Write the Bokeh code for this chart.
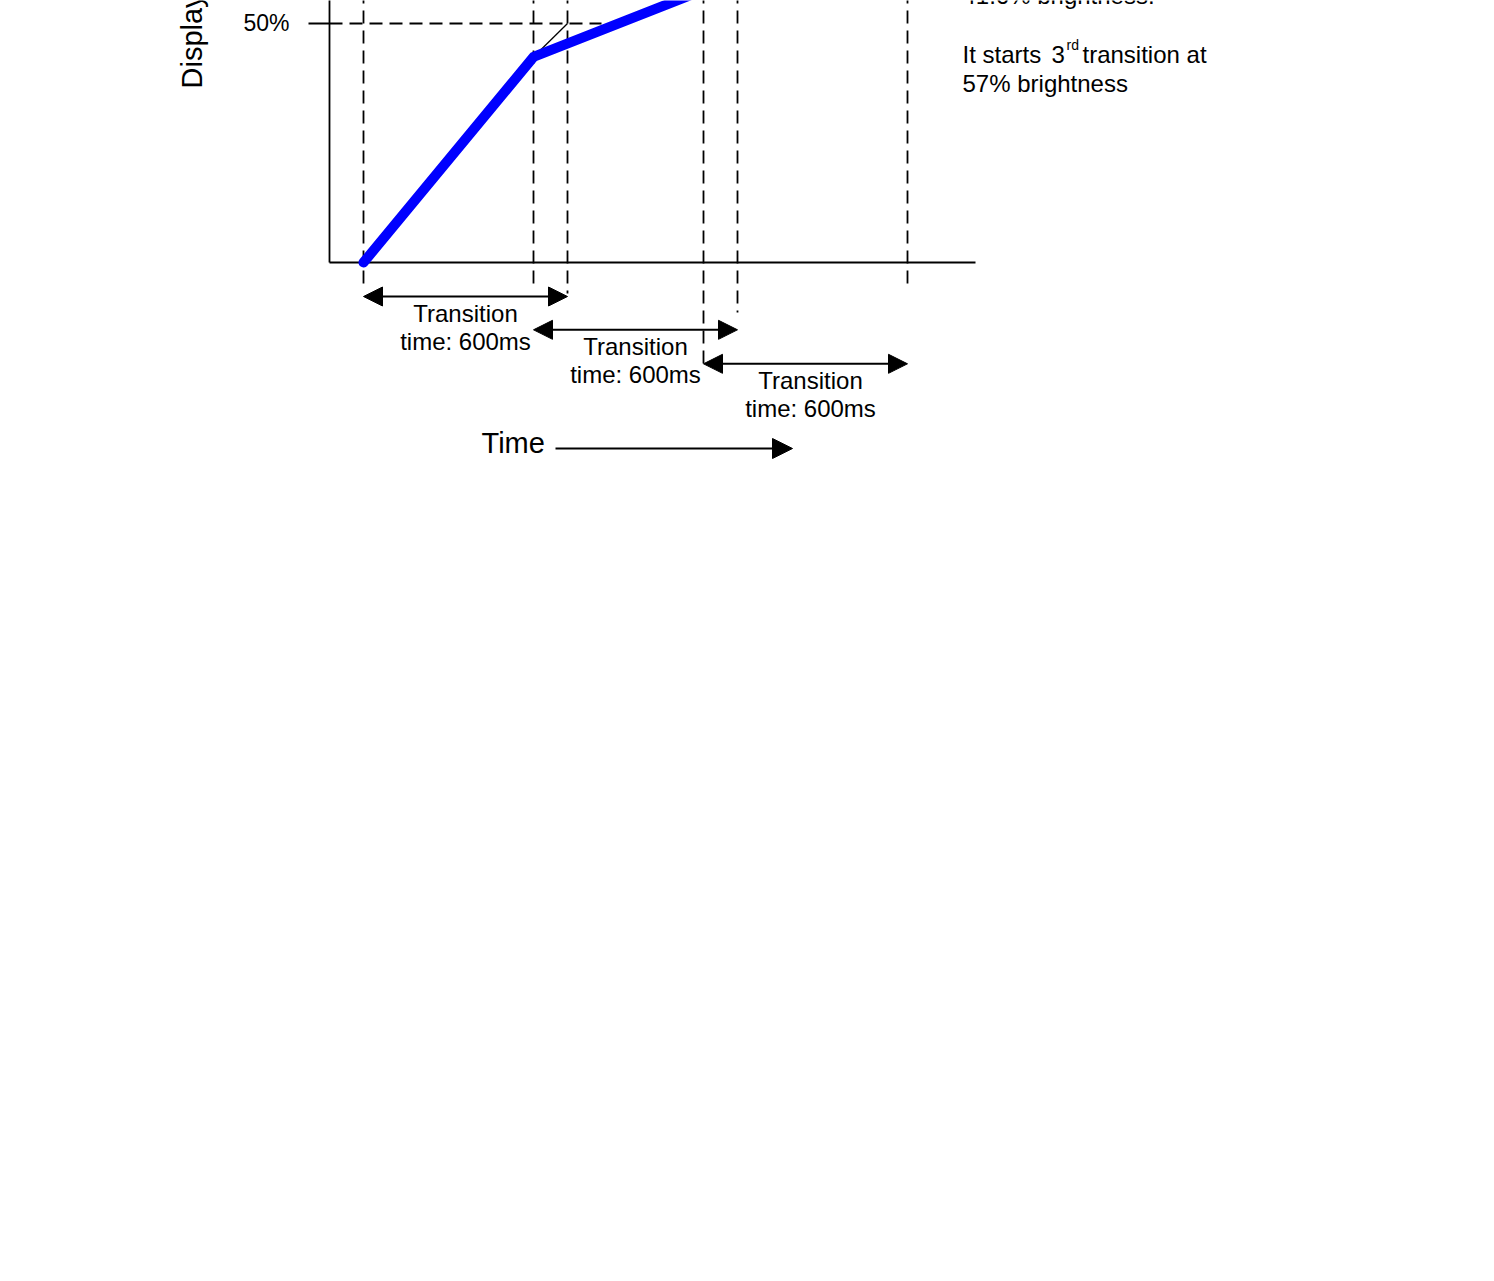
import math
from bokeh.plotting import figure
from bokeh.models import Range1d, Label, Arrow, NormalHead
from bokeh.embed import file_html
from bokeh.resources import INLINE

# ---------------- data ----------------
curve_time_ms = [0, 500, 1000]
curve_brightness = [0, 43, 57]
target_time_ms = [500, 600]
target_brightness = [43, 50]
transition_start_ms = [0, 500, 1000]
transition_length_ms = 600
marker_time_ms = [0, 500, 600, 1000, 1100, 1600]
y_tick_values = [50]
y_tick_labels = ["50%"]
transition_text = ["Transition", "time: 600ms"]
axis_start_ms = -100
axis_end_ms = 1800
note_lines = ["41.6% brightness.", "It starts", "3", "rd", "transition at", "57% brightness"]

# ---------------- layout helpers (reference pixel geometry) ----------------
W, H = 1478, 1265
ORIGIN = 0                # page px where the canvas starts
PX0, SX = 363.0, 0.34     # page px of t=0, px per ms
PY0, SY = 262.0, 4.78     # page px of 0 %, px per %
BASE_SHIFT = 0.37         # em correction for the rendered text baseline

def tx(px):
    return (px - PX0) / SX

def by(py):
    return (PY0 - py) / SY

FONT = "Liberation Sans"

p = figure(width=W, height=H, output_backend="svg", toolbar_location=None,
           x_axis_type=None, y_axis_type=None, min_border=0,
           x_range=Range1d(tx(ORIGIN), tx(ORIGIN + W)),
           y_range=Range1d(by(ORIGIN + H), by(ORIGIN)))
p.outline_line_color = None
p.background_fill_color = "white"
p.border_fill_color = "white"

top = by(-30)
DASH = "13 7"
LW = 1.8


def text_at(px, py, text, size, align="left", angle=0.0):
    s = float(size)
    if angle:
        px = px - BASE_SHIFT * s
    else:
        py = py - BASE_SHIFT * s
    p.add_layout(Label(x=tx(px), y=by(py), text=text, text_font=FONT, text_font_size=f"{size}px",
                       text_align=align, text_baseline="alphabetic", text_color="black",
                       angle=angle))


# axes
p.segment(x0=[axis_start_ms], y0=[0], x1=[axis_start_ms], y1=[top], line_color="black", line_width=LW)
p.segment(x0=[axis_start_ms], y0=[0], x1=[axis_end_ms], y1=[0], line_color="black", line_width=LW)

# 50% tick + dashed guide
for v, lab in zip(y_tick_values, y_tick_labels):
    p.segment(x0=[tx(308)], y0=[v], x1=[axis_start_ms], y1=[v], line_color="black", line_width=LW)
    p.segment(x0=[axis_start_ms], y0=[v], x1=[700], y1=[v], line_color="black", line_width=LW, line_dash=DASH)
    text_at(289, 31, lab, 23, align="right")

# vertical dashed markers
marker_bottom_px = [287, 287, 293, 363.3, 312, 287]
p.segment(x0=marker_time_ms, y0=[top] * len(marker_time_ms), x1=marker_time_ms,
          y1=[by(v) for v in marker_bottom_px], line_color="black", line_width=LW, line_dash=DASH)

# thin target line
p.line(target_time_ms, target_brightness, line_color="black", line_width=1.3)

# blue brightness curve
p.line(curve_time_ms, curve_brightness, line_color="#0000ff", line_width=10,
       line_cap="round", line_join="round")

# transition arrows + labels
row_px = [296, 329.3, 363.3]
text_center_px = [465, 635, 810]
for s, rp, cx in zip(transition_start_ms, row_px, text_center_px):
    p.add_layout(Arrow(x_start=s, y_start=by(rp), x_end=s + transition_length_ms, y_end=by(rp),
                       line_color="black", line_width=2,
                       start=NormalHead(size=19, fill_color="black", line_color="black", line_width=1),
                       end=NormalHead(size=19, fill_color="black", line_color="black", line_width=1)))
    text_at(cx, rp + 25.7, transition_text[0], 24, align="center")
    text_at(cx, rp + 54, transition_text[1], 24, align="center")

# Time axis label and arrow
text_at(481, 453, "Time", 29)
p.add_layout(Arrow(x_start=tx(555), y_start=by(448), x_end=tx(792), y_end=by(448),
                   line_color="black", line_width=1.8, start=None,
                   end=NormalHead(size=20, fill_color="black", line_color="black", line_width=1)))

# Y axis label (rotated)
text_at(202, 88, "Display brightness", 29, angle=math.pi / 2)

# right-hand notes
text_at(962, 3.5, note_lines[0], 24)
text_at(962, 62.7, note_lines[1], 24)
text_at(1051, 62.7, note_lines[2], 24)
text_at(1066, 50, note_lines[3], 14)
text_at(1082, 62.7, note_lines[4], 24)
text_at(962, 91.7, note_lines[5], 24)

open("out.html", "w").write(file_html(p, INLINE))
